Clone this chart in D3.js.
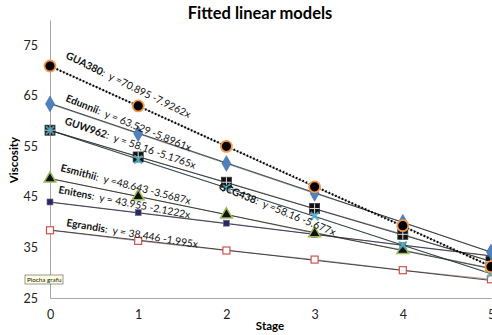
<!DOCTYPE html>
<html><head><meta charset="utf-8">
<script src="https://cdn.jsdelivr.net/npm/d3@7"></script>
<style>body{margin:0;background:#fff;}svg{display:block;font-family:Lato,"Open Sans",sans-serif;}</style>
</head><body>
<svg id="c" width="492" height="335"></svg>
<script>
const stages = [0,1,2,3,4,5];
const xTicks = [0,1,2,3,4,5];
const yTicks = [25,35,45,55,65,75];
const seriesNames = ["Egrandis","Enitens","Esmithii","GUW962","GCG438","Edunnii","GUA380"];
const vEgrandis = [38.4,36.3,34.4,32.6,30.5,28.7];
const vEnitens  = [44.0,41.9,39.8,37.6,35.4,33.3];
const vEsmithii = [48.6,45.1,41.5,37.8,34.5,30.9];
const vGUW962   = [58.2,52.9,47.9,42.7,37.6,32.2];
const vGCG438   = [58.2,52.4,46.8,41.2,35.4,29.9];
const vEdunnii  = [63.4,57.5,51.6,45.7,40.0,34.1];
const vGUA380   = [70.9,63.0,55.0,47.0,39.3,31.2];
const intercepts = [38.446,43.955,48.643,58.16,58.16,63.529,70.895];
const slopes     = [-1.995,-2.1222,-3.5687,-5.1765,-5.677,-5.8961,-7.9262];
const eqTexts = [":  y = 38.446 -1.995x",":  y = 43.955 -2.1222x",":  y =48.643 -3.5687x",":  y = 58.16 -5.1765x",":  y =58.16 -5.677x",":  y = 63.529 -5.8961x",":  y =70.895 -7.9262x"];
const values = [vEgrandis,vEnitens,vEsmithii,vGUW962,vGCG438,vEdunnii,vGUA380];

const svg = d3.select("#c");
const x = d3.scaleLinear().domain([0,5]).range([50,491]);
const y = d3.scaleLinear().domain([25,80]).range([298,20]);

// title
svg.append("text").attr("x",260).attr("y",19).attr("text-anchor","middle")
  .attr("font-weight","bold").attr("font-size",16.5).text("Fitted linear models");

// axes
const xa = svg.append("g").attr("transform","translate(0,298)")
  .call(d3.axisBottom(x).tickValues(xTicks).tickSize(0).tickPadding(12).tickFormat(d3.format("d")));
xa.select(".domain").attr("stroke","#a6a6a6");
xa.selectAll("text").attr("font-size",12.5).attr("fill","#222").attr("font-family","Lato,sans-serif");
const ya = svg.append("g").attr("transform","translate(50,0)")
  .call(d3.axisLeft(y).tickValues(yTicks).tickSize(0).tickPadding(12));
ya.select(".domain").attr("stroke","#a6a6a6");
ya.selectAll("text").attr("font-size",12.5).attr("fill","#222").attr("font-family","Lato,sans-serif");

svg.append("text").attr("x",270).attr("y",330).attr("text-anchor","middle")
  .attr("font-weight","bold").attr("font-size",11.5).text("Stage");
svg.append("text").attr("transform","translate(18,160) rotate(-90)").attr("text-anchor","middle")
  .attr("font-weight","bold").attr("font-size",11.5).text("Viscosity");

// series connecting lines
const lineColors = ["#7a4a4a","#5b4a9c","#4a5a2a","#333","#3a8aa6","#2a3a5a","#333"];
const line = d3.line().x((d,i)=>x(stages[i])).y(d=>y(d));
values.forEach((v,k)=>{
  svg.append("path").attr("d",line(v)).attr("fill","none")
    .attr("stroke",lineColors[k]).attr("stroke-width",0.7).attr("opacity",0.8);
});
// trendlines
values.forEach((v,k)=>{
  const t = svg.append("line").attr("x1",x(0)).attr("y1",y(intercepts[k]))
    .attr("x2",x(5)).attr("y2",y(intercepts[k]+slopes[k]*5))
    .attr("stroke","#222");
  if (k===6) t.attr("stroke-width",2.2).attr("stroke-dasharray","1.6,2").attr("stroke","#000");
  else t.attr("stroke-width",0.8);
});

// markers
const g = svg.append("g");
stages.forEach((s,i)=>{
  g.append("rect").attr("x",x(s)-3.5).attr("y",y(vEgrandis[i])-3.5).attr("width",7).attr("height",7)
    .attr("fill","#fff").attr("stroke","#d0504d").attr("stroke-width",1.2);
  g.append("rect").attr("x",x(s)-3).attr("y",y(vEnitens[i])-3).attr("width",6).attr("height",6)
    .attr("fill","#2a2a5a").attr("stroke","#6a6aa0").attr("stroke-width",0.6);
  g.append("path").attr("transform",`translate(${x(s)},${y(vEsmithii[i])})`)
    .attr("d",d3.symbol(d3.symbolTriangle,60)()).attr("fill","#111").attr("stroke","#9bbb59").attr("stroke-width",1.5);
  g.append("rect").attr("x",x(s)-5).attr("y",y(vGUW962[i])-5).attr("width",10).attr("height",10)
    .attr("fill","#111").attr("stroke","#333").attr("stroke-width",0.8);
  g.append("path").attr("d",`M${x(s)-5},${y(vGUW962[i])}h10M${x(s)},${y(vGUW962[i])-5}v10`)
    .attr("stroke","#ddd").attr("stroke-width",1);
  g.append("path").attr("d",`M${x(s)-4},${y(vGCG438[i])-4}l8,8M${x(s)+4},${y(vGCG438[i])-4}l-8,8`)
    .attr("stroke","#4bacc6").attr("stroke-width",2.2).attr("opacity",0.85);
  g.append("path").attr("transform",`translate(${x(s)},${y(vEdunnii[i])})`)
    .attr("d",d3.symbol(d3.symbolDiamond,70)()).attr("fill","#4f81bd").attr("stroke","#3a6aa5").attr("stroke-width",0.6);
  g.append("circle").attr("cx",x(s)).attr("cy",y(vGUA380[i])).attr("r",5.5)
    .attr("fill","#000").attr("stroke","#f79646").attr("stroke-width",1.8);
});

// labels
const labelPos = [[66,226,9.5],[58,193,11],[60,171,14.5],[64,124,19],[218,189,22],[65,101,22],[65,58,26]];
seriesNames.forEach((n,k)=>{
  const [lx,ly,ang] = labelPos[k];
  const t = svg.append("text").attr("transform",`translate(${lx},${ly}) rotate(${ang})`)
    .attr("font-size",10.3).attr("fill","#111").style("white-space","pre");
  t.append("tspan").attr("font-weight","bold").text(n);
  t.append("tspan").text(eqTexts[k]);
});

// Plocha grafu tooltip
const tg = svg.append("g").attr("transform","translate(25,275)");
tg.append("rect").attr("width",38).attr("height",9).attr("fill","#ffffe1").attr("stroke","#555").attr("stroke-width",0.6);
tg.append("text").attr("x",2).attr("y",7).attr("font-size",6.3).attr("fill","#111").text("Plocha grafu");
</script>
</body></html>
